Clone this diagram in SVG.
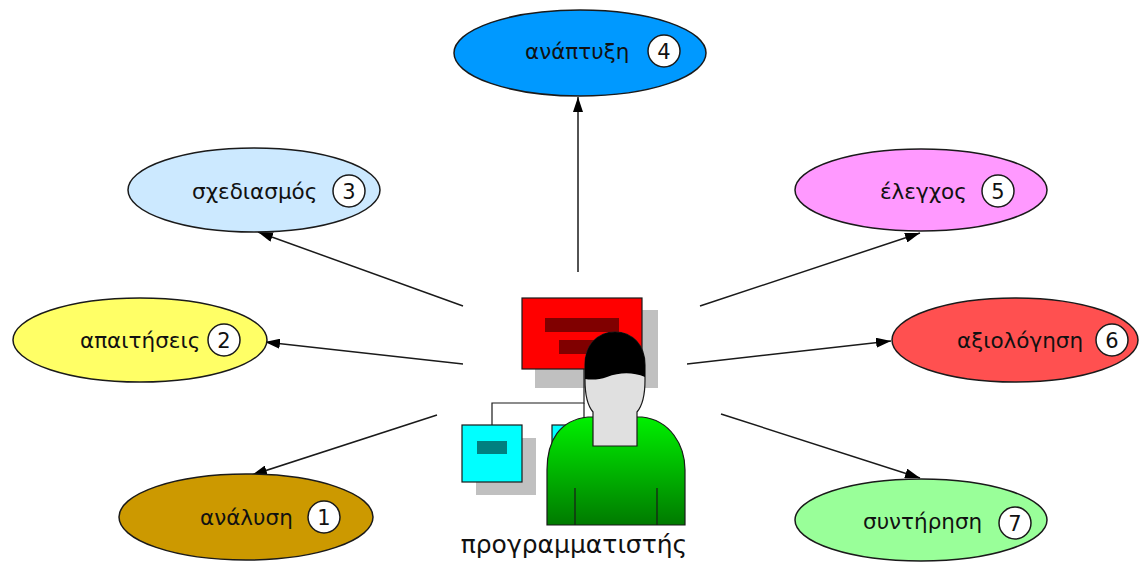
<svg xmlns="http://www.w3.org/2000/svg" width="1139" height="563" viewBox="0 0 1139 563">
  <style>
    .phase { stroke: #1a1a1a; stroke-width: 1.5; }
    .lbl { font-family: "DejaVu Sans", Verdana, sans-serif; font-size: 21.5px; fill: #111; }
    .num-c { fill: #fff; stroke: #1a1a1a; stroke-width: 1.5; }
    .num { font-family: "DejaVu Sans", Verdana, sans-serif; font-size: 21px; fill: #111; text-anchor: middle; }
    .edge { stroke: #1a1a1a; stroke-width: 1.5; fill: none; marker-end: url(#arrow); }
    .shadow { fill: #c0c0c0; }
    .thin { stroke: #1a1a1a; stroke-width: 1.2; fill: none; }
  </style>
  <defs>
    <marker id="arrow" markerUnits="userSpaceOnUse" markerWidth="16" markerHeight="10" refX="15" refY="5" orient="auto">
      <path d="M0,0 L15,5 L0,10 Z" fill="#000"/>
    </marker>
    <linearGradient id="shirt" x1="0" y1="0" x2="0" y2="1">
      <stop offset="0" stop-color="#00f000"/>
      <stop offset="1" stop-color="#007a00"/>
    </linearGradient>
  </defs>
  <rect width="1139" height="563" fill="#fff"/>

  <!-- connectors from the programmer to each phase -->
  <g id="connectors">
    <line class="edge" x1="578" y1="272" x2="578" y2="97"/>
    <line class="edge" x1="463" y1="306" x2="258" y2="232"/>
    <line class="edge" x1="463" y1="364" x2="265" y2="342"/>
    <line class="edge" x1="437" y1="415" x2="252" y2="475"/>
    <line class="edge" x1="700" y1="306" x2="920" y2="233"/>
    <line class="edge" x1="687" y1="364" x2="891" y2="341"/>
    <line class="edge" x1="721" y1="414" x2="920" y2="478"/>
  </g>

  <g id="phase-analysis">
    <ellipse class="phase" cx="246" cy="517" rx="127" ry="43" fill="#cc9900"/>
    <text class="lbl" x="200" y="525">ανάλυση</text>
    <circle class="num-c" cx="324" cy="517" r="16"/>
    <text class="num" x="324" y="525">1</text>
  </g>

  <g id="phase-requirements">
    <ellipse class="phase" cx="140" cy="340" rx="127" ry="42" fill="#ffff66"/>
    <text class="lbl" x="80" y="348">απαιτήσεις</text>
    <circle class="num-c" cx="224" cy="340" r="16"/>
    <text class="num" x="224" y="348">2</text>
  </g>

  <g id="phase-design">
    <ellipse class="phase" cx="254" cy="190" rx="126" ry="42" fill="#cce9ff"/>
    <text class="lbl" x="192" y="199">σχεδιασμός</text>
    <circle class="num-c" cx="349" cy="191" r="16"/>
    <text class="num" x="349" y="199">3</text>
  </g>

  <g id="phase-development">
    <ellipse class="phase" cx="580" cy="53" rx="126" ry="43" fill="#0099ff"/>
    <text class="lbl" x="525" y="59">ανάπτυξη</text>
    <circle class="num-c" cx="664" cy="51" r="16"/>
    <text class="num" x="664" y="59">4</text>
  </g>

  <g id="phase-testing">
    <ellipse class="phase" cx="921" cy="190" rx="126" ry="41" fill="#ff99ff"/>
    <text class="lbl" x="880" y="199">έλεγχος</text>
    <circle class="num-c" cx="998" cy="191" r="16"/>
    <text class="num" x="998" y="199">5</text>
  </g>

  <g id="phase-evaluation">
    <ellipse class="phase" cx="1015" cy="340" rx="123" ry="42" fill="#ff5050"/>
    <text class="lbl" x="957" y="348">αξιολόγηση</text>
    <circle class="num-c" cx="1112" cy="340" r="16"/>
    <text class="num" x="1112" y="348">6</text>
  </g>

  <g id="phase-maintenance">
    <ellipse class="phase" cx="921" cy="520" rx="126" ry="41" fill="#99ff99"/>
    <text class="lbl" x="863" y="529">συντήρηση</text>
    <circle class="num-c" cx="1015" cy="523" r="16"/>
    <text class="num" x="1015" y="531">7</text>
  </g>

  <!-- programmer: screen, module boxes and person -->
  <g id="programmer">
    <rect class="shadow" x="535" y="310" width="123" height="78"/>
    <rect x="522" y="298" width="120" height="71" fill="#ff0000" stroke="#1a1a1a" stroke-width="1.2"/>
    <rect x="545" y="318" width="74" height="14" fill="#800000"/>
    <rect x="559" y="340" width="46" height="14" fill="#800000"/>

    <polyline class="thin" points="584,369 584,403 492,403 492,425"/>
    <line class="thin" x1="584" y1="403" x2="584" y2="425"/>

    <rect class="shadow" x="476" y="438" width="60" height="57"/>
    <rect x="462" y="425" width="60" height="57" fill="#00ffff" stroke="#1a1a1a" stroke-width="1.2"/>
    <rect x="477" y="441" width="30" height="13" fill="#008080"/>

    <rect class="shadow" x="566" y="438" width="60" height="57"/>
    <rect x="552" y="425" width="60" height="57" fill="#00ffff" stroke="#1a1a1a" stroke-width="1.2"/>

    <path d="M547,525 L547,470 C547,440 560,420 588,417 L642,417 C670,420 685,445 685,470 L685,525 Z" fill="url(#shirt)" stroke="#1a1a1a" stroke-width="1.2"/>
    <line class="thin" x1="575" y1="488" x2="575" y2="525"/>
    <line class="thin" x1="657" y1="488" x2="657" y2="525"/>

    <path d="M593,446 L593,412 C587,405 585,395 585,380 L585,365 C585,345 598,332 615,332 C632,332 645,345 645,365 L645,380 C645,395 643,405 637,412 L637,446 Z" fill="#e0e0e0" stroke="#1a1a1a" stroke-width="1.2"/>
    <path d="M585,379 L585,365 C585,345 598,332 615,332 C632,332 645,345 645,365 L645,377 C633,372 620,372 607,377 C599,380 591,380 585,379 Z" fill="#000"/>

    <text x="574" y="553" text-anchor="middle" font-family="DejaVu Sans, Verdana, sans-serif" font-size="25" fill="#111">προγραμματιστής</text>
  </g>
</svg>
